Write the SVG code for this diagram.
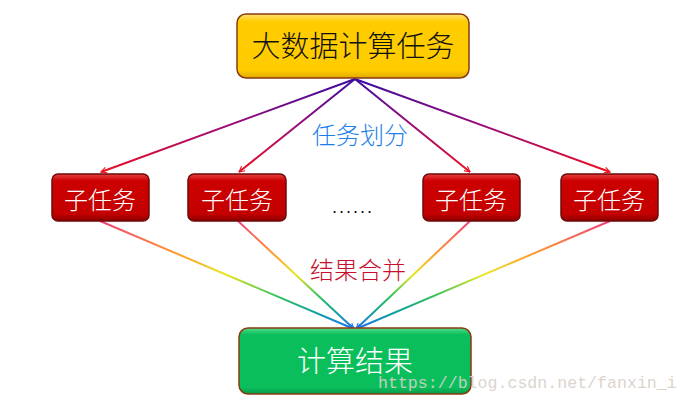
<svg xmlns="http://www.w3.org/2000/svg" width="690" height="404" viewBox="0 0 690 404">
<style>
.cjk{font-family:"Noto Sans CJK SC","Noto Sans",sans-serif;font-weight:300;}
.sub rect{fill:url(#gRed);stroke:#6e0a0a;stroke-width:1.5;}
.sub text{fill:#ffffff;font-size:24px;text-anchor:middle;}
.top{fill:url(#gTop);stroke:#8a3a10;stroke-width:1.5;}
.bot{fill:url(#gGreen);stroke:#8a3a10;stroke-width:1.5;}
.split{fill:none;stroke:url(#gSplit);stroke-width:2;marker-end:url(#arRed);}
.merge{fill:none;stroke:url(#gMerge);stroke-width:2;marker-end:url(#arBlue);}
</style>
<defs>
<linearGradient id="gTop" x1="0" y1="0" x2="0" y2="1">
<stop offset="0" stop-color="#ffe070"/><stop offset="0.12" stop-color="#ffcc00"/><stop offset="0.88" stop-color="#ffcc00"/><stop offset="1" stop-color="#e0a800"/>
</linearGradient>
<linearGradient id="gRed" x1="0" y1="0" x2="0" y2="1">
<stop offset="0" stop-color="#e84040"/><stop offset="0.15" stop-color="#cc0000"/><stop offset="0.85" stop-color="#c40000"/><stop offset="1" stop-color="#8a0000"/>
</linearGradient>
<linearGradient id="gGreen" x1="0" y1="0" x2="0" y2="1">
<stop offset="0" stop-color="#50dc88"/><stop offset="0.1" stop-color="#0abf5b"/><stop offset="0.9" stop-color="#0abf5b"/><stop offset="1" stop-color="#08994a"/>
</linearGradient>
<linearGradient id="gSplit" x1="0" y1="0" x2="0" y2="1">
<stop offset="0" stop-color="#3a0aa0"/><stop offset="0.5" stop-color="#9a0a78"/><stop offset="1" stop-color="#ee1020"/>
</linearGradient>
<linearGradient id="gMerge" x1="0" y1="0" x2="0" y2="1">
<stop offset="0" stop-color="#f0407a"/><stop offset="0.3" stop-color="#ff9a30"/><stop offset="0.5" stop-color="#e8e820"/><stop offset="0.7" stop-color="#30c060"/><stop offset="0.85" stop-color="#10a0a0"/><stop offset="1" stop-color="#2070f0"/>
</linearGradient>
<marker id="arRed" viewBox="0 0 10 10" refX="9" refY="5" markerWidth="7" markerHeight="7" orient="auto" markerUnits="userSpaceOnUse">
<path d="M1,1 L9,5 L1,9" fill="none" stroke="#ee1020" stroke-width="1.6"/>
</marker>
<marker id="arBlue" viewBox="0 0 10 10" refX="9" refY="5" markerWidth="7" markerHeight="7" orient="auto" markerUnits="userSpaceOnUse">
<path d="M1,1 L9,5 L1,9" fill="none" stroke="#2070f0" stroke-width="1.6"/>
</marker>
</defs>
<g id="connectors">
<path class="split" d="M355,79 L101,172"/>
<path class="split" d="M355,79 L239,172"/>
<path class="split" d="M355,79 L470,172"/>
<path class="split" d="M355,79 L610,172"/>
<path class="merge" d="M100,221 L354,329"/>
<path class="merge" d="M238,221 L354,329"/>
<path class="merge" d="M470,221 L356,329"/>
<path class="merge" d="M610,221 L356,329"/>
</g>
<g id="task">
<rect class="top" x="237" y="14" width="232" height="64" rx="9"/>
<text class="cjk" x="353" y="57" font-size="29" text-anchor="middle" fill="#111">大数据计算任务</text>
</g>
<g id="sub1" class="sub cjk"><rect x="52" y="174" width="97" height="47" rx="6"/><text x="100" y="209">子任务</text></g>
<g id="sub2" class="sub cjk"><rect x="188" y="174" width="98" height="47" rx="6"/><text x="237" y="209">子任务</text></g>
<g id="sub3" class="sub cjk"><rect x="423" y="174" width="97" height="47" rx="6"/><text x="471" y="209">子任务</text></g>
<g id="sub4" class="sub cjk"><rect x="561" y="174" width="97" height="47" rx="6"/><text x="609" y="209">子任务</text></g>
<g id="dots"><text x="353" y="213" font-family="Liberation Sans,sans-serif" font-size="18" letter-spacing="2" text-anchor="middle" fill="#111">......</text></g>
<g id="label-split"><text class="cjk" x="360" y="144" font-size="24" text-anchor="middle" fill="#1e7fe8">任务划分</text></g>
<g id="label-merge"><text class="cjk" x="358" y="279" font-size="24" text-anchor="middle" fill="#c8102e">结果合并</text></g>
<g id="result">
<rect class="bot" x="239" y="328" width="232" height="66" rx="9"/>
<text class="cjk" x="355" y="372" font-size="29" text-anchor="middle" fill="#ffffff">计算结果</text>
</g>
<text x="378" y="388" font-family="Liberation Mono,monospace" font-size="16.6" fill="#d8d0c8" opacity="0.9">https://blog.csdn.net/fanxin_i</text>
</svg>
